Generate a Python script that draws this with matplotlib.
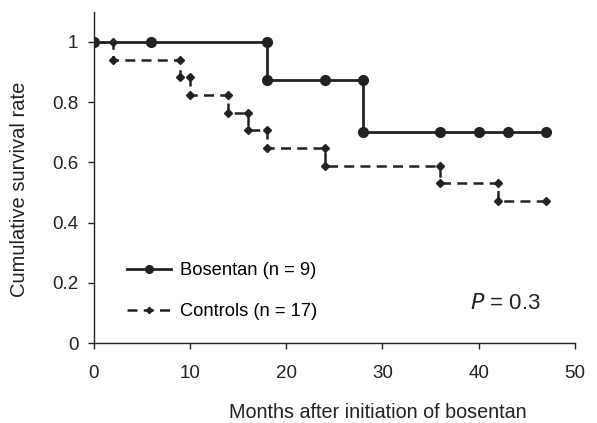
import matplotlib
matplotlib.use("Agg")
import matplotlib.pyplot as plt

plt.rcParams['font.family'] = ['Liberation Sans', 'DejaVu Sans']

# Bosentan group (step points, circles)
bos_months = [0, 6, 18, 18, 24, 28, 28, 36, 40, 43, 47]
bos_surv = [1.0, 1.0, 1.0, 0.875, 0.875, 0.875, 0.70, 0.70, 0.70, 0.70, 0.70]

# Controls group (step points, diamonds)
ctl_months = [0, 2, 2, 9, 9, 10, 10, 14, 14, 16, 16, 18, 18, 24, 24, 36, 36, 42, 42, 47]
ctl_surv = [1.0, 1.0, 0.941, 0.941, 0.882, 0.882, 0.824, 0.824, 0.765, 0.765,
            0.706, 0.706, 0.647, 0.647, 0.588, 0.588, 0.530, 0.530, 0.471, 0.471]

xticks = [0, 10, 20, 30, 40, 50]
yticks = [0, 0.2, 0.4, 0.6, 0.8, 1]
ylabels = ['0', '0.2', '0.4', '0.6', '0.8', '1']

ink = '#222222'

fig = plt.figure(figsize=(5.97, 4.23), dpi=100)
ax = fig.add_axes([0.157, 0.189, 0.806, 0.783])

ax.plot(ctl_months, ctl_surv, color=ink, lw=1.8, ls=(0, (4, 2.5)),
        marker='D', ms=4, label='Controls (n = 17)')
ax.plot(bos_months, bos_surv, color=ink, lw=2.0, ls='-',
        marker='o', ms=7, label='Bosentan (n = 9)')

ax.set_xlim(0, 50)
ax.set_ylim(0, 1.1)
ax.set_xticks(xticks)
ax.set_yticks(yticks)
ax.set_yticklabels(ylabels)
ax.tick_params(labelsize=13.5, length=4, width=1, colors=ink)
ax.tick_params(axis='x', pad=12)
ax.tick_params(axis='y', pad=7)
for s in ['top', 'right']:
    ax.spines[s].set_visible(False)
for s in ['left', 'bottom']:
    ax.spines[s].set_linewidth(1)
    ax.spines[s].set_color(ink)

ax.set_xlabel('Months after initiation of bosentan', fontsize=14.2, color=ink)
ax.set_ylabel('Cumulative survival rate', fontsize=14.5, color=ink)
ax.xaxis.set_label_coords(0.59, -0.18)
ax.yaxis.set_label_coords(-0.135, 0.465)

h, l = ax.get_legend_handles_labels()
ax.legend(h[::-1], l[::-1], loc='lower left', bbox_to_anchor=(0.035, 0.02),
          frameon=False, fontsize=13.2, handlelength=2.4, handletextpad=0.5,
          labelspacing=1.3, markerscale=0.8)

ax.text(0.93, 0.12, '$P$ = 0.3', transform=ax.transAxes, ha='right',
        va='center', fontsize=16, color=ink)

fig.savefig('out.png', dpi=100)
